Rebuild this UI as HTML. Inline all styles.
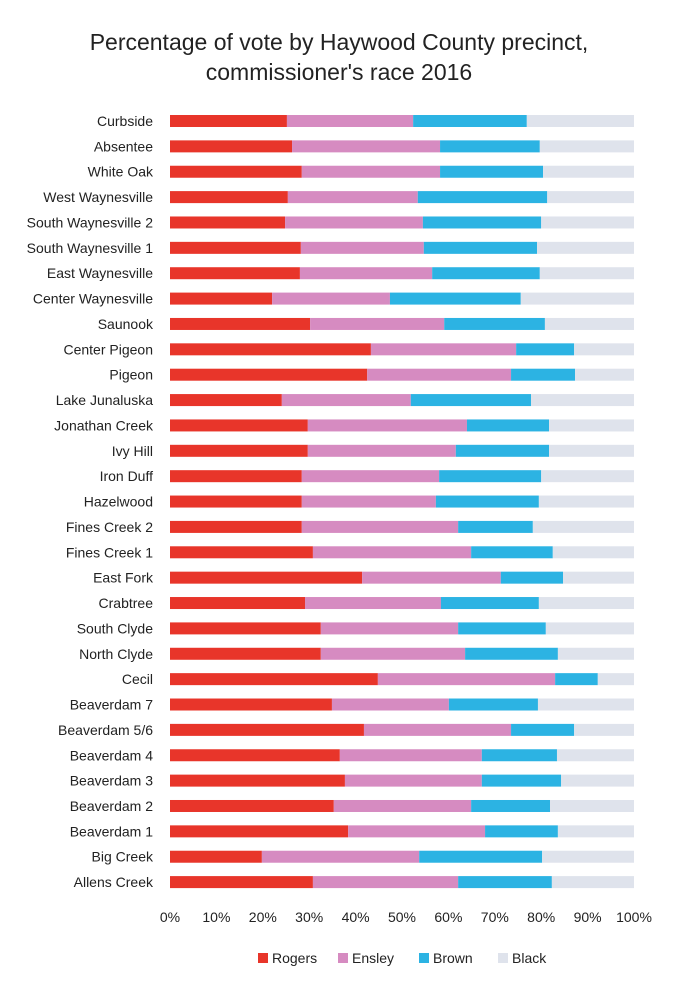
<!DOCTYPE html>
<html><head><meta charset="utf-8"><style>
html,body{margin:0;padding:0;background:#fff;}
svg{display:block;font-family:"Liberation Sans",sans-serif;}
</style></head><body>
<svg id="chart" width="678" height="991">
<text x="339" y="50" text-anchor="middle" font-size="23" fill="#222">Percentage of vote by Haywood County precinct,</text>
<text x="339" y="80" text-anchor="middle" font-size="23" fill="#222">commissioner's race 2016</text>
<g id="bars"></g>
<g id="labels"></g>
<g id="ticks"></g>
<g id="legend"></g>
</svg>
<script>
const categories=["Curbside","Absentee","White Oak","West Waynesville","South Waynesville 2","South Waynesville 1","East Waynesville","Center Waynesville","Saunook","Center Pigeon","Pigeon","Lake Junaluska","Jonathan Creek","Ivy Hill","Iron Duff","Hazelwood","Fines Creek 2","Fines Creek 1","East Fork","Crabtree","South Clyde","North Clyde","Cecil","Beaverdam 7","Beaverdam 5/6","Beaverdam 4","Beaverdam 3","Beaverdam 2","Beaverdam 1","Big Creek","Allens Creek"];
const rogers=[25.2,26.3,28.4,25.4,24.8,28.2,28.0,22.0,30.2,43.3,42.5,24.1,29.7,29.7,28.4,28.4,28.4,30.8,41.4,29.1,32.5,32.5,44.8,34.9,41.8,36.6,37.7,35.3,38.4,19.8,30.8];
const ensley=[27.2,31.9,29.8,28.0,29.7,26.5,28.5,25.4,28.9,31.3,31.0,27.8,34.3,31.9,29.6,28.9,33.7,34.1,29.9,29.3,29.6,31.1,38.2,25.2,31.7,30.6,29.5,29.6,29.5,33.9,31.3];
const brown=[24.5,21.5,22.2,27.9,25.5,24.4,23.2,28.2,21.7,12.5,13.8,25.9,17.7,20.1,22.0,22.2,16.1,17.6,13.4,21.1,18.9,20.0,9.2,19.2,13.6,16.2,17.1,17.0,15.7,26.5,20.2];
const black=categories.map((c,i)=>100-rogers[i]-ensley[i]-brown[i]);
const tickLabels=["0%","10%","20%","30%","40%","50%","60%","70%","80%","90%","100%"];
const seriesNames=["Rogers","Ensley","Brown","Black"];
const colors=["#e8352a","#d68bc1","#2cb3e3","#dfe3ec"];
const NS="http://www.w3.org/2000/svg";
const x0=170,x1=634,yTop=121,step=25.37,bh=12;
const xs=v=>x0+(x1-x0)*v/100;
const ys=i=>yTop+i*step;
const series=[rogers,ensley,brown,black];
const gb=document.getElementById('bars'),gl=document.getElementById('labels'),gt=document.getElementById('ticks'),gg=document.getElementById('legend');
function mk(t,a){const e=document.createElementNS(NS,t);for(const k in a)e.setAttribute(k,a[k]);return e;}
categories.forEach((c,i)=>{
  let acc=0;
  series.forEach((s,j)=>{
    const r=mk('rect',{x:xs(acc),y:ys(i)-bh/2,width:xs(acc+s[i])-xs(acc),height:bh,fill:colors[j]});
    
    
    gb.appendChild(r);acc+=s[i];
  });
  const t=mk('text',{x:153,y:ys(i)+5,'text-anchor':'end','font-size':14,fill:'#222'});
  t.textContent=c;
  
  
  gl.appendChild(t);
});
tickLabels.forEach((l,i)=>{
  const t=mk('text',{x:xs(i*10),y:922,'text-anchor':'middle','font-size':14,fill:'#222'});
  t.textContent=l;
  
  
  gt.appendChild(t);
});
const lx=[258,338,419,498];
seriesNames.forEach((n,j)=>{
  const r=mk('rect',{x:lx[j],y:953,width:10,height:10,fill:colors[j]});
  
  
  gg.appendChild(r);
  const t=mk('text',{x:lx[j]+14,y:963,'font-size':14,fill:'#222'});
  t.textContent=n;
  
  
  gg.appendChild(t);
});
</script>
</body></html>
